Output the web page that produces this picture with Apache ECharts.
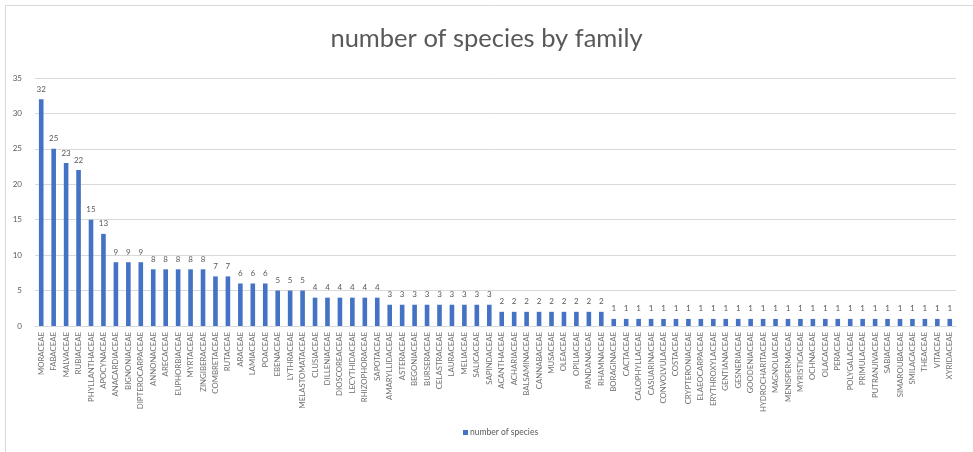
<!DOCTYPE html>
<html>
<head>
<meta charset="utf-8">
<script src="https://cdn.jsdelivr.net/npm/echarts@6/dist/echarts.min.js"></script>
<style>
  html, body { margin: 0; padding: 0; background: #fff; }
  #chart { width: 973px; height: 452px; }
</style>
</head>
<body>
<div id="chart"></div>
<script>
// Plant families, sorted by species count
const families = [
  'MORACEAE', 'FABACEAE', 'MALVACEAE', 'RUBIACEAE', 'PHYLLANTHACEAE', 'APOCYNACEAE',
  'ANACARDIACEAE', 'BIGNONIACEAE', 'DIPTEROCARPACEAE', 'ANNONACEAE', 'ARECACEAE',
  'EUPHORBIACEAE', 'MYRTACEAE', 'ZINGIBERACEAE', 'COMBRETACEAE', 'RUTACEAE', 'ARACEAE',
  'LAMIACEAE', 'POACEAE', 'EBENACEAE', 'LYTHRACEAE', 'MELASTOMATACEAE', 'CLUSIACEAE',
  'DILLENIACEAE', 'DIOSCOREACEAE', 'LECYTHIDACEAE', 'RHIZOPHORACEAE', 'SAPOTACEAE',
  'AMARYLLIDACEAE', 'ASTERACEAE', 'BEGONIACEAE', 'BURSERACEAE', 'CELASTRACEAE',
  'LAURACEAE', 'MELIACEAE', 'SALICACEAE', 'SAPINDACEAE', 'ACANTHACEAE', 'ACHARIACEAE',
  'BALSAMINACEAE', 'CANNABACEAE', 'MUSACEAE', 'OLEACEAE', 'OPILIACEAE', 'PANDANACEAE',
  'RHAMNACEAE', 'BORAGINACEAE', 'CACTACEAE', 'CALOPHYLLACEAE', 'CASUARINACEAE',
  'CONVOLVULACEAE', 'COSTACEAE', 'CRYPTERONIACEAE', 'ELAEOCARPACEAE', 'ERYTHROXYLACEAE',
  'GENTIANACEAE', 'GESNERIACEAE', 'GOODENIACEAE', 'HYDROCHARITACEAE', 'MAGNOLIACEAE',
  'MENISPERMACEAE', 'MYRISTICACEAE', 'OCHNACEAE', 'OLACACEAE', 'PERACEAE', 'POLYGALACEAE',
  'PRIMULACEAE', 'PUTRANJIVACEAE', 'SABIACEAE', 'SIMAROUBACEAE', 'SMILACACEAE',
  'THEACEAE', 'VITACEAE', 'XYRIDACEAE'
];

const speciesCounts = [
  32, 25, 23, 22, 15, 13,
  9, 9, 9, 8, 8,
  8, 8, 8, 7, 7, 6,
  6, 6, 5, 5, 5, 4,
  4, 4, 4, 4, 4,
  3, 3, 3, 3, 3,
  3, 3, 3, 3, 2, 2,
  2, 2, 2, 2, 2, 2,
  2, 1, 1, 1, 1,
  1, 1, 1, 1, 1,
  1, 1, 1, 1, 1,
  1, 1, 1, 1, 1, 1,
  1, 1, 1, 1, 1,
  1, 1, 1
];

const seriesName = 'number of species';
const yTicks = { min: 0, max: 35, step: 5 };

const textGray = '#595959';
const labelGray = '#6f6f6f';
const gridGray = '#d9d9d9';
const barBlue = '#4472C4';
const font = 'Lato, "Open Sans", sans-serif';

const chart = echarts.init(document.getElementById('chart'), null, { renderer: 'canvas' });

chart.setOption({
  animation: false,
  backgroundColor: '#fff',
  textStyle: { fontFamily: font },
  title: {
    text: 'number of species by family',
    left: 'center',
    top: 21,
    textStyle: { color: textGray, fontSize: 25.5, fontWeight: 'normal', fontFamily: font }
  },
  graphic: [{
    type: 'rect',
    shape: { x: 5.5, y: 5.5, width: 1000, height: 1000 },
    style: { fill: 'none', stroke: gridGray, lineWidth: 1 },
    silent: true,
    z: -1
  }],
  legend: {
    bottom: 10,
    left: 458,
    itemWidth: 5,
    itemHeight: 5,
    itemGap: 4,
    icon: 'rect',
    textStyle: { color: textGray, fontSize: 8.5, fontFamily: font, padding: [0, 0, 0, -3] },
    data: [seriesName]
  },
  grid: { left: 35, right: 17, top: 78, height: 248, containLabel: false },
  xAxis: {
    type: 'category',
    data: families,
    axisLine: { lineStyle: { color: gridGray, width: 1 } },
    axisTick: { show: false },
    axisLabel: {
      rotate: 90,
      interval: 0,
      color: labelGray,
      fontSize: 7.8,
      margin: 6,
      fontFamily: font
    }
  },
  yAxis: {
    type: 'value',
    min: yTicks.min,
    max: yTicks.max,
    interval: yTicks.step,
    axisLine: { show: false },
    axisTick: { show: false },
    splitLine: { lineStyle: { color: gridGray, width: 1 } },
    axisLabel: { color: textGray, fontSize: 8, margin: 13, fontFamily: font }
  },
  series: [{
    name: seriesName,
    type: 'bar',
    data: speciesCounts,
    barWidth: '37%',
    itemStyle: { color: barBlue },
    label: {
      show: true,
      position: 'top',
      distance: 6,
      color: textGray,
      fontSize: 8,
      fontFamily: font
    }
  }]
});
</script>
</body>
</html>
